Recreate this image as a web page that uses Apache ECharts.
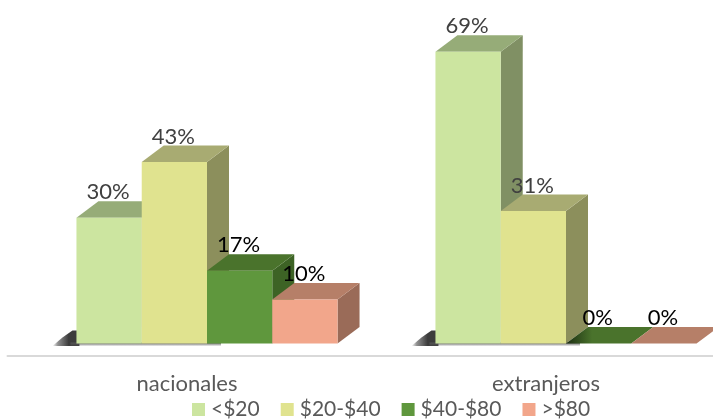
<!DOCTYPE html>
<html>
<head>
<meta charset="utf-8">
<title>Precios</title>
<script src="https://cdn.jsdelivr.net/npm/echarts@6/dist/echarts.min.js"></script>
<style>
  html, body { margin: 0; padding: 0; background: #fff; }
  #chart { width: 713px; height: 419px; overflow: hidden; }
</style>
</head>
<body>
<div id="chart"></div>
<script>
var categories = ['nacionales', 'extranjeros'];
var tiers = ['<$20', '$20-$40', '$40-$80', '>$80'];
// the labels show them rounded
var under20 = [29.7, 69];
var from20to40 = [42.9, 31.3];
var from40to80 = [17.2, 0];
var over80 = [10.4, 0];

var tierValues = [under20, from20to40, from40to80, over80];
// front, top, side
var tierColors = [
  ['#cce5a0', '#96ac78', '#809064'],
  ['#e0e38f', '#a8ab72', '#8c8f5c'],
  ['#5f973d', '#4a732c', '#3d6325'],
  ['#f2a68b', '#b67f68', '#9a6b58']
];
var labelColors = ['#404040', '#404040', '#000', '#000'];

var depthX = 22;
var depthY = 16.5;
var font = 'Lato, "Noto Sans", sans-serif';

function box3d(tier) {
  return function (params, api) {
    var cat = api.value(0);
    var val = api.value(1);
    var center = api.coord([cat, 0])[0];
    var base = api.coord([cat, 0])[1];
    var top = api.coord([cat, val])[1];
    var w = api.size([1, 0])[0] / 5.5;
    var x0 = center + 20 + (tier - 2) * w;
    var x1 = x0 + w;
    var c = tierColors[tier];
    var children = [];

    // soft floor shadow behind the first box of each group
    if (tier === 0) {
      children.push({
        type: 'polygon',
        shape: { points: [[x0 - 24, base + 2.5], [x0 - 14, base - 6], [x0 - 4, base - 13], [x0 + 3, base - 13], [x0 + 3, base + 2.5]] },
        style: {
          fill: new echarts.graphic.LinearGradient(0, 0, 1, 0, [
            { offset: 0, color: 'rgba(70,70,70,0)' }, { offset: 0.2, color: 'rgba(70,70,70,0.6)' }, { offset: 0.6, color: '#3c3c3c' }, { offset: 1, color: '#3c3c3c' }
          ])
        }
      });
      children.push({
        type: 'rect',
        shape: { x: x0 - 6, y: base - 1, width: 2 * w + 20, height: 3.5 },
        style: {
          fill: new echarts.graphic.LinearGradient(0, 0, 0, 1, [
            { offset: 0, color: '#555' }, { offset: 1, color: 'rgba(90,90,90,0.1)' }
          ])
        }
      });
    }
    if (val > 0) {
      children.push({
        type: 'polygon',
        shape: { points: [[x1, top], [x1 + depthX, top - depthY], [x1 + depthX, base - depthY], [x1, base]] },
        style: { fill: c[2] }
      });
    }
    var topFill = c[1];
    if (val === 0 && tier === 2) {
      // the neighbour's shadow falls over this flat top
      topFill = new echarts.graphic.LinearGradient(0, 0, 1, 0, [
        { offset: 0, color: '#1c2e12' }, { offset: 0.3, color: c[1] }, { offset: 1, color: c[1] }
      ]);
    }
    children.push({
      type: 'polygon',
      shape: { points: [[x0, top], [x1, top], [x1 + depthX, top - depthY], [x0 + depthX, top - depthY]] },
      style: { fill: topFill }
    });
    if (val > 0) {
      children.push({
        type: 'rect',
        shape: { x: x0, y: top, width: w, height: base - top },
        style: { fill: c[0] }
      });
    }
    children.push({
      type: 'text',
      z2: 10,
      style: {
        x: x0 + w / 2 - 1,
        y: top - 25.5,
        text: Math.round(val) + '%',
        align: 'center',
        verticalAlign: 'middle',
        font: '22px ' + font,
        fill: labelColors[tier]
      }
    });
    return { type: 'group', children: children };
  };
}

var series = tiers.map(function (name, t) {
  return {
    name: name,
    type: 'custom',
    renderItem: box3d(t),
    itemStyle: { color: tierColors[t][0] },
    encode: { x: 0, y: 1 },
    data: tierValues[t].map(function (v, i) { return [i, v]; })
  };
});

var chart = echarts.init(document.getElementById('chart'));
chart.setOption({
  animation: false,
  textStyle: { fontFamily: font },
  grid: { left: 7.5, top: 47.4, width: 718, height: 296.1, outerBoundsMode: 'none' },
  xAxis: {
    type: 'category',
    data: categories,
    offset: 12.5,
    axisLine: { show: true, onZero: false, lineStyle: { color: '#d9d9d9', width: 2 } },
    axisTick: { show: false },
    axisLabel: { color: '#595959', fontSize: 22, fontFamily: font, margin: 17 }
  },
  yAxis: { type: 'value', min: 0, max: 70, show: false },
  legend: {
    data: tiers,
    left: 192,
    top: 399,
    padding: 0,
    icon: 'rect',
    itemWidth: 13,
    itemHeight: 13,
    itemGap: 21,
    textStyle: { color: '#595959', fontSize: 21, fontFamily: font, padding: [0, 0, 0, 1] }
  },
  series: series
});
</script>
</body>
</html>
